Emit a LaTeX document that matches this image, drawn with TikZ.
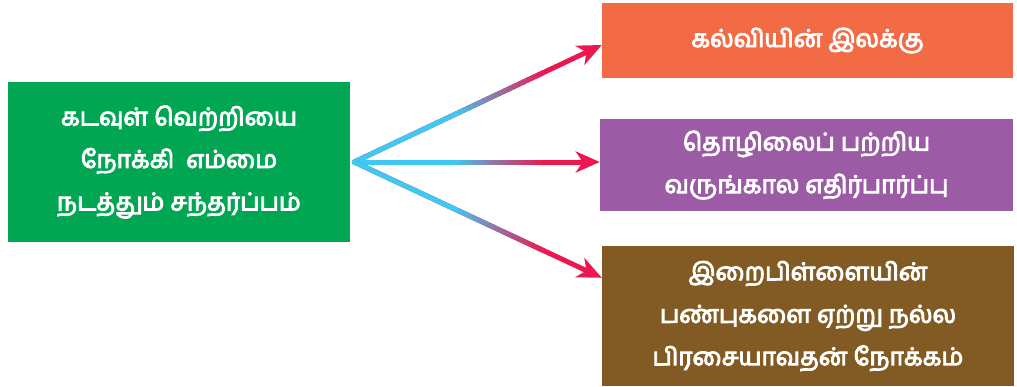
\documentclass[tikz,border=0pt]{standalone}
\usepackage{fontspec}
\newfontfamily\tamil[Script=Tamil, FakeBold=4]{Hind Madurai}
\usetikzlibrary{calc,arrows.meta}
\definecolor{gr}{RGB}{0,166,81}
\definecolor{orng}{RGB}{242,107,69}
\definecolor{purp}{RGB}{155,91,165}
\definecolor{brwn}{RGB}{130,90,35}
\definecolor{cy}{RGB}{62,200,242}
\definecolor{rd}{RGB}{237,23,80}
\tikzset{
  box/.style={inner sep=0pt, text=white, align=center,
    font=\tamil\fontsize{24.5}{42.5}\selectfont},
  redarrow/.style={draw=rd, line width=5pt, -{Stealth[length=24pt,width=21pt,inset=7pt]}},
}
\newcommand\gradarrow[2]{%
  \draw[redarrow] (#1) -- (#2);
  \foreach \i in {0,...,37}{%
    \pgfmathsetmacro\ta{\i/50}%
    \pgfmathsetmacro\tb{(\i+1.2)/50}%
    \pgfmathtruncatemacro\pc{100*max(0,min(1,(0.76-\ta)/0.36))}%
    \draw[line width=5pt, draw=cy!\pc!rd] ($(#1)!\ta!(#2)$) -- ($(#1)!\tb!(#2)$);
  }%
  \fill[cy] (#1) circle (2.5pt);
}
\begin{document}
\begin{tikzpicture}[x=1pt,y=-1pt]
\useasboundingbox (0,0) rectangle (1017,386);
\node[box, fill=gr, minimum width=342pt, minimum height=160pt] (src) at (179,162)
  {கடவுள் வெற்றியை\\நோக்கி~ எம்மை\\நடத்தும் சந்தர்ப்பம்};
\node[box, fill=orng, minimum width=411pt, minimum height=75pt] (t1) at (807.5,40.5)
  {கல்வியின் இலக்கு};
\node[box, fill=purp, minimum width=413pt, minimum height=92pt] (t2) at (806.5,165)
  {தொழிலைப் பற்றிய\\வருங்கால எதிர்பார்ப்பு};
\node[box, fill=brwn, minimum width=412pt, minimum height=140pt] (t3) at (808,316)
  {இறைபிள்ளையின்\\பண்புகளை ஏற்று நல்ல\\பிரசையாவதன் நோக்கம்};
\coordinate (hub) at ($(src.east)+(4,0)$);
\coordinate (e1) at ($(t1.west)+(0,4.5)$);
\coordinate (e2) at ($(t2.west)+(0,-3)$);
\coordinate (e3) at ($(t3.north west)+(0,32)$);
\gradarrow{hub}{e1}
\gradarrow{hub}{e2}
\gradarrow{hub}{e3}
\end{tikzpicture}
\end{document}
